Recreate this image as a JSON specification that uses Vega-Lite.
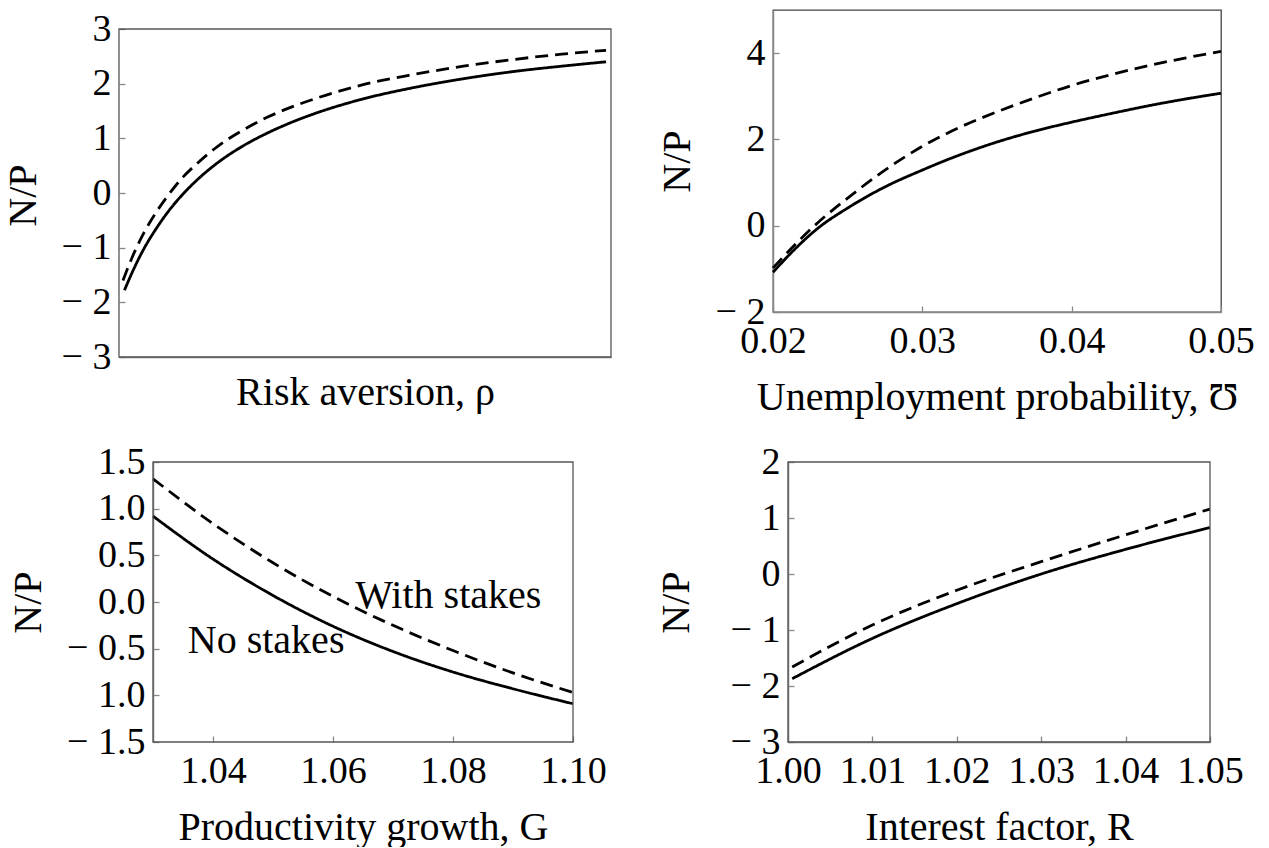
{
  "$schema": "https://vega.github.io/schema/vega-lite/v6.json",
  "padding": {"left": 3, "top": 9, "right": 0, "bottom": 0},
  "background": "white",
  "datasets": {
    "p1": [
      {"x": 0.011, "y": -1.78, "s": "No stakes"}, {"x": 0.03, "y": -1.39, "s": "No stakes"}, {"x": 0.05, "y": -1.03, "s": "No stakes"},
      {"x": 0.075, "y": -0.66, "s": "No stakes"}, {"x": 0.1, "y": -0.34, "s": "No stakes"}, {"x": 0.13, "y": -0.02, "s": "No stakes"},
      {"x": 0.16, "y": 0.25, "s": "No stakes"}, {"x": 0.2, "y": 0.55, "s": "No stakes"}, {"x": 0.25, "y": 0.85, "s": "No stakes"},
      {"x": 0.3, "y": 1.09, "s": "No stakes"}, {"x": 0.35, "y": 1.29, "s": "No stakes"}, {"x": 0.4, "y": 1.46, "s": "No stakes"},
      {"x": 0.5, "y": 1.73, "s": "No stakes"}, {"x": 0.6, "y": 1.93, "s": "No stakes"}, {"x": 0.7, "y": 2.09, "s": "No stakes"},
      {"x": 0.8, "y": 2.22, "s": "No stakes"}, {"x": 0.9, "y": 2.32, "s": "No stakes"}, {"x": 0.99, "y": 2.40, "s": "No stakes"},
      {"x": 0.008, "y": -1.60, "s": "With stakes"}, {"x": 0.03, "y": -1.11, "s": "With stakes"}, {"x": 0.05, "y": -0.74, "s": "With stakes"},
      {"x": 0.075, "y": -0.36, "s": "With stakes"}, {"x": 0.1, "y": -0.04, "s": "With stakes"}, {"x": 0.13, "y": 0.29, "s": "With stakes"},
      {"x": 0.16, "y": 0.55, "s": "With stakes"}, {"x": 0.2, "y": 0.85, "s": "With stakes"}, {"x": 0.25, "y": 1.14, "s": "With stakes"},
      {"x": 0.3, "y": 1.38, "s": "With stakes"}, {"x": 0.35, "y": 1.57, "s": "With stakes"}, {"x": 0.4, "y": 1.73, "s": "With stakes"},
      {"x": 0.5, "y": 1.99, "s": "With stakes"}, {"x": 0.6, "y": 2.17, "s": "With stakes"}, {"x": 0.7, "y": 2.32, "s": "With stakes"},
      {"x": 0.8, "y": 2.44, "s": "With stakes"}, {"x": 0.9, "y": 2.54, "s": "With stakes"}, {"x": 0.99, "y": 2.61, "s": "With stakes"}
    ],
    "p2": [
      {"x": 0.02, "y": -1.08, "s": "No stakes"}, {"x": 0.0215, "y": -0.53, "s": "No stakes"}, {"x": 0.023, "y": -0.06, "s": "No stakes"},
      {"x": 0.025, "y": 0.41, "s": "No stakes"}, {"x": 0.0275, "y": 0.90, "s": "No stakes"}, {"x": 0.03, "y": 1.29, "s": "No stakes"},
      {"x": 0.0325, "y": 1.64, "s": "No stakes"}, {"x": 0.035, "y": 1.94, "s": "No stakes"}, {"x": 0.0375, "y": 2.19, "s": "No stakes"},
      {"x": 0.04, "y": 2.40, "s": "No stakes"}, {"x": 0.0425, "y": 2.59, "s": "No stakes"}, {"x": 0.045, "y": 2.77, "s": "No stakes"},
      {"x": 0.0475, "y": 2.93, "s": "No stakes"}, {"x": 0.05, "y": 3.07, "s": "No stakes"},
      {"x": 0.02, "y": -0.98, "s": "With stakes"}, {"x": 0.0215, "y": -0.43, "s": "With stakes"}, {"x": 0.023, "y": 0.07, "s": "With stakes"},
      {"x": 0.025, "y": 0.64, "s": "With stakes"}, {"x": 0.0275, "y": 1.29, "s": "With stakes"}, {"x": 0.03, "y": 1.84, "s": "With stakes"},
      {"x": 0.0325, "y": 2.28, "s": "With stakes"}, {"x": 0.035, "y": 2.64, "s": "With stakes"}, {"x": 0.0375, "y": 2.96, "s": "With stakes"},
      {"x": 0.04, "y": 3.25, "s": "With stakes"}, {"x": 0.0425, "y": 3.49, "s": "With stakes"}, {"x": 0.045, "y": 3.70, "s": "With stakes"},
      {"x": 0.0475, "y": 3.88, "s": "With stakes"}, {"x": 0.05, "y": 4.04, "s": "With stakes"}
    ],
    "p3": [
      {"x": 1.03, "y": 0.92, "s": "No stakes"}, {"x": 1.04, "y": 0.46, "s": "No stakes"}, {"x": 1.05, "y": 0.07, "s": "No stakes"},
      {"x": 1.06, "y": -0.26, "s": "No stakes"}, {"x": 1.07, "y": -0.53, "s": "No stakes"}, {"x": 1.08, "y": -0.75, "s": "No stakes"},
      {"x": 1.09, "y": -0.93, "s": "No stakes"}, {"x": 1.10, "y": -1.09, "s": "No stakes"},
      {"x": 1.03, "y": 1.32, "s": "With stakes"}, {"x": 1.04, "y": 0.84, "s": "With stakes"}, {"x": 1.05, "y": 0.42, "s": "With stakes"},
      {"x": 1.06, "y": 0.06, "s": "With stakes"}, {"x": 1.07, "y": -0.25, "s": "With stakes"}, {"x": 1.08, "y": -0.52, "s": "With stakes"},
      {"x": 1.09, "y": -0.76, "s": "With stakes"}, {"x": 1.10, "y": -0.97, "s": "With stakes"}
    ],
    "p3labels": [
      {"x": 1.0637, "y": -0.065, "t": "With stakes"},
      {"x": 1.0358, "y": -0.547, "t": "No stakes"}
    ],
    "p4": [
      {"x": 1.0005, "y": -1.87, "s": "No stakes"}, {"x": 1.01, "y": -1.15, "s": "No stakes"}, {"x": 1.02, "y": -0.53, "s": "No stakes"},
      {"x": 1.03, "y": 0.0, "s": "No stakes"}, {"x": 1.04, "y": 0.44, "s": "No stakes"}, {"x": 1.05, "y": 0.83, "s": "No stakes"},
      {"x": 1.0005, "y": -1.66, "s": "With stakes"}, {"x": 1.01, "y": -0.91, "s": "With stakes"}, {"x": 1.02, "y": -0.29, "s": "With stakes"},
      {"x": 1.03, "y": 0.22, "s": "With stakes"}, {"x": 1.04, "y": 0.70, "s": "With stakes"}, {"x": 1.05, "y": 1.16, "s": "With stakes"}
    ]
  },
  "concat": [
    {
      "width": 492, "height": 347,
      "view": {"stroke": null},
      "layer": [
        {
          "data": {"name": "p1"},
          "mark": {"type": "line", "color": "black", "strokeWidth": 2.8, "interpolate": "monotone"},
          "encoding": {
            "x": {"field": "x", "type": "quantitative", "scale": {"domain": [0, 1], "nice": false}, "title": "Risk aversion, ρ",
                  "axis": {"labels": false, "ticks": false, "titlePadding": 15}},
            "y": {"field": "y", "type": "quantitative", "scale": {"domain": [-3, 3.3476], "nice": false}, "title": "N/P",
                  "axis": {"values": [-3, -2, -1, 0, 1, 2, 3], "domain": false, "titleY": 185,
                           "labelExpr": "replace(replace(format(datum.value, 'd'), '-', '−'), '−', '− ')"}},
            "strokeDash": {"field": "s", "type": "nominal", "scale": {"domain": ["No stakes", "With stakes"], "range": [[1, 0], [13, 7]]}, "legend": null}
          }
        },
        {
          "data": {"values": [{}]},
          "mark": {"type": "rect", "filled": false, "stroke": "#555", "strokeWidth": 1.3},
          "encoding": {
            "x": {"datum": 0, "type": "quantitative", "title": "Risk aversion, ρ"},
            "x2": {"datum": 1},
            "y": {"datum": -3, "type": "quantitative", "title": "N/P"},
            "y2": {"datum": 3}
          }
        }
      ]
    },
    {
      "width": 448, "height": 302,
      "data": {"name": "p2"},
      "mark": {"type": "line", "color": "black", "strokeWidth": 2.8, "interpolate": "monotone"},
      "encoding": {
        "x": {"field": "x", "type": "quantitative", "scale": {"domain": [0.02, 0.05], "nice": false},
              "axis": {"title": "Unemployment probability, Ʊ", "values": [0.02, 0.03, 0.04, 0.05], "format": ".2f"}},
        "y": {"field": "y", "type": "quantitative", "scale": {"domain": [-2, 5], "nice": false},
              "axis": {"title": "N/P", "values": [-2, 0, 2, 4],
                       "labelExpr": "replace(replace(format(datum.value, 'd'), '-', '−'), '−', '− ')"}},
        "strokeDash": {"field": "s", "type": "nominal", "scale": {"domain": ["No stakes", "With stakes"], "range": [[1, 0], [13, 7]]}, "legend": null}
      }
    },
    {
      "width": 454, "height": 280,
      "view": {"stroke": null},
      "layer": [
        {
          "data": {"name": "p3"},
          "mark": {"type": "line", "color": "black", "strokeWidth": 2.8, "interpolate": "monotone"},
          "encoding": {
            "x": {"field": "x", "type": "quantitative", "scale": {"domain": [1.024333, 1.10], "nice": false}, "title": "Productivity growth, G",
                  "axis": {"values": [1.04, 1.06, 1.08, 1.10], "format": ".2f", "domain": false, "titleX": 244}},
            "y": {"field": "y", "type": "quantitative", "scale": {"domain": [-1.5, 1.5], "nice": false}, "title": "N/P",
                  "axis": {"values": [-1.5, -1, -0.5, 0, 0.5, 1, 1.5], "offset": -34,
                           "labelExpr": "datum.value == -1 ? '1.0' : replace(replace(format(datum.value, '.1f'), '-', '−'), '−', '− ')"}},
            "strokeDash": {"field": "s", "type": "nominal", "scale": {"domain": ["No stakes", "With stakes"], "range": [[1, 0], [13, 7]]}, "legend": null}
          }
        },
        {
          "data": {"values": [{}]},
          "mark": {"type": "rect", "filled": false, "stroke": "#555", "strokeWidth": 1.3},
          "encoding": {
            "x": {"datum": 1.03, "type": "quantitative", "title": "Productivity growth, G"},
            "x2": {"datum": 1.10},
            "y": {"datum": -1.5, "type": "quantitative", "title": "N/P"},
            "y2": {"datum": 1.5}
          }
        },
        {
          "data": {"name": "p3labels"},
          "mark": {"type": "text", "align": "left", "baseline": "alphabetic", "font": "Liberation Serif", "fontSize": 40, "color": "black"},
          "encoding": {
            "x": {"field": "x", "type": "quantitative", "title": "Productivity growth, G"},
            "y": {"field": "y", "type": "quantitative", "title": "N/P"},
            "text": {"field": "t"}
          }
        }
      ]
    },
    {
      "width": 422, "height": 280,
      "view": {"stroke": null},
      "layer": [
        {
          "data": {"name": "p4"},
          "mark": {"type": "line", "color": "black", "strokeWidth": 2.8, "interpolate": "monotone"},
          "encoding": {
            "x": {"field": "x", "type": "quantitative", "scale": {"domain": [1.0, 1.05], "nice": false}, "title": "Interest factor, R",
                  "axis": {"values": [1.0, 1.01, 1.02, 1.03, 1.04, 1.05], "format": ".2f"}},
            "y": {"field": "y", "type": "quantitative", "scale": {"domain": [-3, 2], "nice": false}, "title": "N/P",
                  "axis": {"values": [-3, -2, -1, 0, 1, 2], "titlePadding": 34,
                           "labelExpr": "replace(replace(format(datum.value, 'd'), '-', '−'), '−', '− ')"}},
            "strokeDash": {"field": "s", "type": "nominal", "scale": {"domain": ["No stakes", "With stakes"], "range": [[1, 0], [13, 7]]}, "legend": null}
          }
        },
        {
          "data": {"values": [{}]},
          "mark": {"type": "rect", "filled": false, "stroke": "#555", "strokeWidth": 1.3},
          "encoding": {
            "x": {"datum": 1.0, "type": "quantitative", "title": "Interest factor, R"},
            "x2": {"datum": 1.05},
            "y": {"datum": -3, "type": "quantitative", "title": "N/P"},
            "y2": {"datum": 2}
          }
        }
      ]
    }
  ],
  "columns": 2,
  "align": "none",
  "spacing": {"row": 25, "column": 44},
  "config": {
    "font": "Liberation Serif",
    "view": {"stroke": "#444", "strokeWidth": 1.3},
    "axis": {
      "labelFont": "Liberation Serif", "titleFont": "Liberation Serif",
      "labelFontSize": 38, "titleFontSize": 40, "titleFontWeight": "normal",
      "labelColor": "black", "titleColor": "black", "grid": false,
      "domainColor": "#888", "domainWidth": 1.5, "tickColor": "#888", "tickWidth": 1.3,
      "tickSize": -6, "labelPadding": 14, "titlePadding": 18, "labelFlush": false, "labelOverlap": false
    },
    "axisX": {"labelPadding": 16, "titlePadding": 17}
  }
}
